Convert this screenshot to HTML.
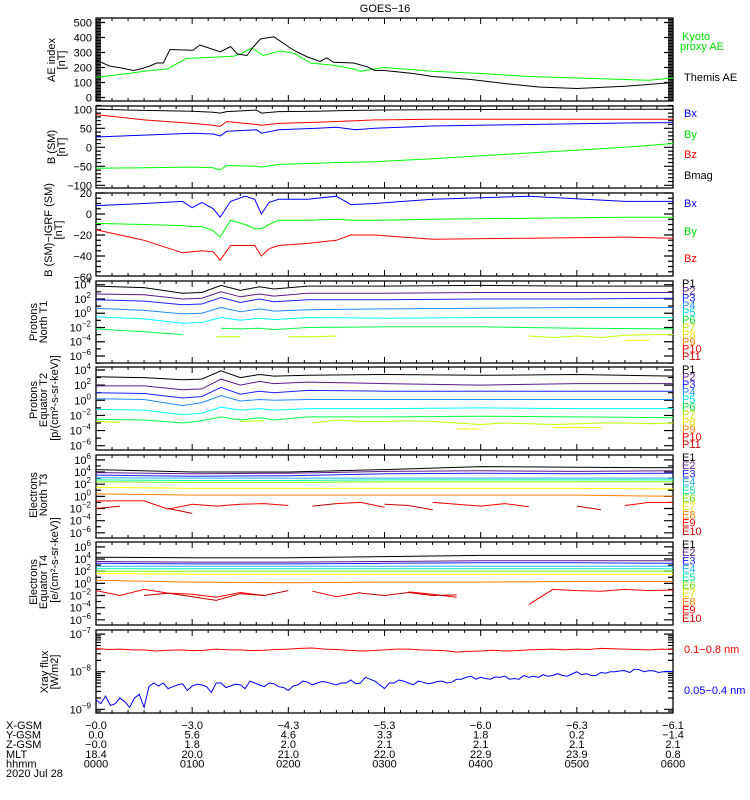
<!DOCTYPE html>
<html><head><meta charset="utf-8">
<style>
body{margin:0;background:#fff;}
svg{display:block;font-family:"Liberation Sans",sans-serif;}
text{font-size:11px;}
</style></head>
<body>
<svg id="c" width="750" height="800" viewBox="0 0 750 800" xmlns="http://www.w3.org/2000/svg">
<rect width="750" height="800" fill="#fff"/>
<text x="385" y="12" text-anchor="middle" font-size="12">GOES−16</text>
</svg>
<script>
// ---- data ----
const aeThemisT=[0,0.14,0.28,0.39,0.46,0.56,0.63,0.70,0.77,1.01,1.08,1.22,1.29,1.40,1.47,1.57,1.64,1.71,1.85,2.02,2.10,2.20,2.33,2.40,2.47,2.68,2.82,2.90,3.0,3.3,3.5,3.9,4.3,4.6,5.0,5.5,6.0];
const aeThemisV=[250,210,195,180,190,210,230,230,320,315,350,320,305,340,290,280,340,390,405,330,300,270,240,265,235,230,205,180,180,160,140,120,90,70,60,75,100];
const aeKyotoT=[0,0.39,0.56,0.74,0.94,1.43,1.50,1.62,1.74,1.92,2.06,2.23,2.47,2.68,2.75,2.89,3.0,3.5,4.0,4.5,5.0,5.5,5.75,6.0];
const aeKyotoV=[135,165,180,190,260,275,290,330,280,310,295,230,215,190,175,190,200,175,160,140,130,120,115,130];

const bT=[0,0.5,1.0,1.22,1.29,1.36,1.67,1.72,1.9,2.3,2.5,2.7,2.9,3.5,4.5,5.5,6.0];
const bMag=[100,97,95,92,90,94,98,90,94,95,96,97,98,99,100,100,100];
const bX=[27,32,37,35,30,42,46,37,46,50,53,46,50,56,60,64,65];
const bY=[-55,-54,-52,-54,-60,-48,-50,-52,-45,-42,-40,-39,-38,-30,-15,0,10];
const bZ=[86,72,63,58,55,68,60,58,63,66,68,70,72,74,74,74,74];

const biT=[0,0.5,0.9,1.0,1.1,1.22,1.29,1.4,1.55,1.65,1.72,1.8,1.9,2.2,2.5,2.65,2.9,3.5,4.5,5.5,6.0];
const biX=[8,10,12,6,11,5,-3,12,17,14,0,11,14,14,17,9,10,14,17,12,12];
const biY=[-9,-10,-11,-12,-12,-16,-22,-6,-10,-14,-14,-10,-6,-6,-5,-6,-6,-5,-4,-3,-3];
const biZ=[-15,-25,-37,-36,-35,-36,-44,-30,-30,-30,-40,-33,-30,-28,-25,-20,-20,-24,-23,-22,-23];

const tK=[0,0.5,0.9,1.1,1.3,1.5,1.7,1.85,2.2,3,4,5,6];
const t1P1=[3.8,3.6,2.8,2.9,3.9,3.2,3.7,3.4,3.8,3.8,3.9,3.8,3.8];
const t1P2=[2.7,2.6,2.0,2.1,3.0,2.3,2.7,2.4,2.8,2.8,2.9,2.9,2.9];
const t1P3=[1.9,1.7,1.2,1.3,2.2,1.5,2.0,1.6,1.9,1.9,2.0,2.0,2.1];
const t1P4=[0.7,0.4,-0.1,0.0,0.8,0.2,0.6,0.3,0.5,0.6,0.7,0.8,0.8];
const t1P5=[-0.5,-0.8,-1.4,-1.3,-0.6,-1.0,-0.7,-0.9,-0.6,-0.7,-0.6,-0.6,-0.6];
const t1P6=[-2.2,-2.6,-3.0,null,-2.1,-2.2,-2.1,-2.3,-2.0,-1.9,-1.9,-2.1,-2.2];
const t2P1=[3.1,3.0,2.7,2.8,3.9,3.0,3.4,3.2,3.3,3.4,3.3,3.4,3.2];
const t2P2=[1.9,1.9,1.4,1.5,2.8,2.0,2.5,2.2,2.4,2.2,2.0,2.2,2.2];
const t2P3=[1.0,0.9,0.3,0.5,1.7,0.8,1.2,1.0,1.3,1.2,1.2,1.2,1.2];
const t2P4=[0.2,0.1,-0.7,-0.3,0.6,-0.1,0.1,0.0,0.1,0.1,0.1,0.1,0.1];
const t2P5=[-1.2,-1.3,-1.9,-1.7,-0.9,-1.3,-1.1,-1.3,-1.1,-1.1,-1.0,-1.1,-1.1];
const t2P6=[-2.5,-2.6,-3.0,-2.7,-2.2,-2.6,-2.3,-2.6,-2.2,-2.2,-2.1,-2.2,-2.3];

const tF=[0,0.25,0.5,0.75,1,1.25,1.5,1.75,2,2.25,2.5,2.75,3,3.25,3.5,3.75,4,4.25,4.5,4.75,5,5.25,5.5,5.75,6];
const t1P7=[null,null,null,null,null,-3.3,-3.3,null,-3.3,-3.3,-3.2,null,null,null,null,null,null,null,-3.2,-3.4,-3.2,-3.4,-3.1,-3.0,-3.0];
const t1P8=[null,null,null,null,null,null,null,null,null,null,null,null,null,null,null,null,null,null,null,null,null,null,-3.8,-3.8,null];
const t2P7=[-2.8,-2.9,null,-3.0,null,null,-2.8,-2.7,null,-3.0,-2.6,-2.8,-2.8,-2.7,-2.8,-3.0,-3.2,-3.0,-3.1,-3.2,-3.1,-3.0,-3.0,-3.1,-3.0];
const t2P8=[null,null,null,null,null,null,null,null,null,null,null,null,null,null,null,-3.8,-3.8,null,null,-3.6,-3.6,-3.6,null,null,null];

const tE=[0,1,2,3,4,5,6];
const t3E1=[4.4,4.0,4.0,4.4,4.9,4.8,4.7];
const t3E2=[3.9,3.7,3.8,4.1,4.2,4.1,4.2];
const t3E3=[3.5,3.3,3.4,3.7,3.8,3.7,3.8];
const t3E4=[3.05,3.0,3.0,3.0,3.0,3.0,3.0];
const t3E5=[2.7,2.6,2.6,2.7,2.7,2.7,2.7];
const t3E6=[2.4,2.3,2.3,2.4,2.4,2.4,2.4];
const t3E7=[1.5,1.3,1.3,1.3,1.3,1.3,1.2];
const t3E8=[0.4,0.2,0.2,0.2,0.2,0.2,0.0];
const t3E9=[-0.75,-0.75,-0.75,-2.1,-1.3,-1.6,-1.3,-1.2,-1.5,null,-1.2,-1.0,-1.8,null,-1.0,-1.3,-1.6,-1.2,-1.7,null,-1.2,null,-1.5,-1.0,-1.0];
const t3E10=[-2.0,-1.6,null,-2.0,-2.8,null,null,null,null,-1.6,-1.2,null,-1.3,-1.5,-2.2,null,null,null,null,null,-1.6,-2.2,null,null,null];
const t4E1=[4.3,4.2,4.2,4.4,4.6,4.6,4.6];
const t4E2=[3.6,3.5,3.5,3.6,3.7,3.7,3.7];
const t4E3=[3.3,3.2,3.2,3.3,3.4,3.4,3.3];
const t4E4=[2.8,2.8,2.8,2.8,2.8,2.8,2.8];
const t4E5=[2.4,2.4,2.4,2.4,2.4,2.4,2.4];
const t4E6=[2.0,2.0,2.0,2.0,2.0,2.0,2.0];
const t4E7=[1.6,1.5,1.5,1.5,1.5,1.5,1.5];
const t4E8=[0.5,0.2,0.1,0.2,0.2,0.3,0.3];
const t4E9=[-1.2,-2.0,-1.0,-1.6,-1.8,-2.3,-1.5,-2.0,null,-1.3,-2.2,-1.5,null,-1.4,-1.8,-2.3,null,null,-3.5,-1.0,-1.2,-1.3,-1.0,-1.2,-1.1];
const t4E10=[-1.0,null,-2.0,-1.6,-2.2,-2.8,-1.7,-2.0,-1.2,null,null,-1.6,-2.0,-1.5,-2.0,-1.9,null,null,null,null,-1.2,null,-1.8,null,null];

const xrLong=[-7.38,-7.41,-7.40,-7.42,-7.42,-7.45,-7.43,-7.42,-7.44,-7.43,-7.40,-7.42,-7.42,-7.44,-7.43,-7.41,-7.40,-7.38,-7.37,-7.40,-7.41,-7.43,-7.45,-7.44,-7.42,-7.40,
-7.40,-7.42,-7.43,-7.44,-7.48,-7.46,-7.45,-7.43,-7.45,-7.44,-7.42,-7.41,-7.40,-7.42,-7.40,-7.41,-7.38,-7.39,-7.40,-7.41,-7.42,-7.40,-7.41];
const xrShort=[-8.75,-8.85,-8.65,-8.9,-8.85,-8.7,-8.8,-8.95,-8.7,-8.6,-8.95,-8.4,-8.3,-8.38,-8.3,-8.45,-8.4,-8.35,-8.32,-8.5,-8.38,-8.33,
-8.35,-8.4,-8.55,-8.3,-8.3,-8.42,-8.38,-8.33,-8.35,-8.45,-8.25,-8.3,-8.35,-8.4,-8.3,-8.32,-8.4,-8.42,-8.5,-8.38,-8.35,-8.25,
-8.28,-8.35,-8.3,-8.26,-8.28,-8.32,-8.35,-8.3,-8.3,-8.22,-8.32,-8.3,-8.15,-8.2,-8.25,-8.35,-8.45,-8.3,-8.3,-8.22,-8.25,-8.3,
-8.35,-8.25,-8.28,-8.32,-8.3,-8.26,-8.25,-8.3,-8.28,-8.2,-8.2,-8.15,-8.12,-8.2,-8.15,-8.18,-8.2,-8.14,-8.15,-8.12,-8.2,-8.18,
-8.2,-8.1,-8.15,-8.12,-8.15,-8.08,-8.12,-8.1,-8.05,-8.1,-8.12,-8.06,-8.0,-8.08,-8.05,-8.1,-8.1,-8.02,-8.04,-8.0,-8.0,-7.98,
-7.97,-8.02,-7.93,-7.95,-8.0,-7.97,-7.98,-8.02,-8.0,-7.99,-8.0];

const hourLabels=['0000','0100','0200','0300','0400','0500','0600'];
const xgsm=['−0.0','−3.0','−4.3','−5.3','−6.0','−6.3','−6.1'];
const ygsm=['0.0','5.6','4.6','3.3','1.8','0.2','−1.4'];
const zgsm=['−0.0','1.8','2.0','2.1','2.1','2.1','2.1'];
const mlt=['18.4','20.0','21.0','22.0','22.9','23.9','0.8'];

// ---- drawing ----
const svg=document.getElementById('c');
const NS='http://www.w3.org/2000/svg';
const X0=96,X1=673;
function xOf(t){return X0+t*(X1-X0)/6;}
function mk(tag,attrs,parent){const e=document.createElementNS(NS,tag);for(const k in attrs)e.setAttribute(k,attrs[k]);(parent||svg).appendChild(e);return e;}
function txt(x,y,s,opt,name){
  const e=mk('text',Object.assign({x:x,y:y},opt||{}));
  e.textContent=s;
  
  
  return e;}
function supLabel(x,y,base,exp,name){
  const e=mk('text',{x:x,y:y,'text-anchor':'end'});
  const a=document.createElementNS(NS,'tspan');a.textContent=base;e.appendChild(a);
  const b=document.createElementNS(NS,'tspan');b.setAttribute('dy','-5');b.setAttribute('font-size','8');b.textContent=exp;e.appendChild(b);
  
  
}
function series(times,vals,yf,color,name){
  let d='',pen=false;
  for(let i=0;i<vals.length;i++){
    if(vals[i]===null||vals[i]===undefined){pen=false;continue;}
    d+=(pen?'L':'M')+xOf(times[i]).toFixed(1)+' '+yf(vals[i]).toFixed(1);pen=true;
  }
  const p=mk('path',{d:d,fill:'none',stroke:color,'stroke-width':1});
  
  
}
function panel(name,top,bot){
  const g=mk('g',{});
  
  
  const r=mk('rect',{x:X0,y:top,width:X1-X0,height:bot-top,fill:'none',stroke:'#000','stroke-width':1.3},g);
  
  
  let d='';
  for(let k=0;k<=36;k++){const x=xOf(k/6);const L=(k%6===0)?6:3;d+=`M${x} ${top}v${L}M${x} ${bot}v${-L}`;}
  mk('path',{d:d,stroke:'#000','stroke-width':1},g);
  return g;
}
function yticks(top,bot,list,g){
  let d='';
  for(const [y,L] of list){if(y<top-0.5||y>bot+0.5)continue;d+=`M${X0} ${y}h${L}M${X1} ${y}h${-L}`;}
  const p=mk('path',{d:d,stroke:'#000','stroke-width':1.2},g);
  
  
}
function vtitle(x,cy,lines,size){
  lines.forEach((s,i)=>{
    const e=mk('text',{x:0,y:0,transform:`translate(${x+i*10},${cy}) rotate(-90)`,'text-anchor':'middle','font-size':size||11});
    e.textContent=s;
    
    
  });
}

// AE panel
(function(){
  const top=18,bot=101; const yf=v=>97.5-v*0.15;
  const g=panel('ae-index-panel',top,bot);
  const tl=[];for(let v=-20;v<=520;v+=10)tl.push([yf(v),v%100===0?9:5]);yticks(top,bot,tl,g);
  for(let v=0;v<=500;v+=100)txt(92,yf(v)+4,String(v),{'text-anchor':'end'},'y-tick-label');
  series(aeKyotoT,aeKyotoV,yf,'#00ff00','kyoto-ae-line');
  series(aeThemisT,aeThemisV,yf,'#000','themis-ae-line');
  vtitle(55,60,['AE index','[nT]']);
  txt(682,40,'Kyoto',{fill:'#00e000'},'legend-kyoto');
  txt(680,50,'proxy AE',{fill:'#00e000'},'legend-kyoto');
  txt(684,81,'Themis AE',{},'legend-themis');
})();
// B SM
(function(){
  const top=106,bot=188; const yf=v=>147.3-v*0.38;
  const g=panel('b-sm-panel',top,bot);
  const tl=[];for(let v=-110;v<=110;v+=10)tl.push([yf(v),v%50===0?9:5]);yticks(top,bot,tl,g);
  [100,50,0,-50,-100].forEach(v=>txt(92,yf(v)+4,String(v).replace('-','−'),{'text-anchor':'end'},'y-tick-label'));
  series(bT,bY,yf,'#00ff00','by-line');series(bT,bX,yf,'#0000ff','bx-line');
  series(bT,bZ,yf,'#ff0000','bz-line');series(bT,bMag,yf,'#000','bmag-line');
  vtitle(55,147,['B (SM)','[nT]']);
  txt(684,117,'Bx',{fill:'#0000ff'},'legend-bx');txt(684,138,'By',{fill:'#00dd00'},'legend-by');
  txt(684,158,'Bz',{fill:'#ff0000'},'legend-bz');txt(684,179,'Bmag',{},'legend-bmag');
})();
// B-IGRF
(function(){
  const top=193,bot=276; const yf=v=>214-v*1.05;
  const g=panel('b-igrf-panel',top,bot);
  const tl=[];for(let v=-60;v<=20;v+=5)tl.push([yf(v),v%20===0?9:5]);yticks(top,bot,tl,g);
  [20,0,-20,-40,-60].forEach(v=>txt(92,yf(v)+4,String(v).replace('-','−'),{'text-anchor':'end'},'y-tick-label'));
  series(biT,biX,yf,'#0000ff','bx-line');series(biT,biY,yf,'#00ff00','by-line');series(biT,biZ,yf,'#ff0000','bz-line');
  vtitle(52,230,['B (SM)−IGRF (SM)','[nT]']);
  txt(684,207,'Bx',{fill:'#0000ff'},'legend-bx');txt(684,235,'By',{fill:'#00dd00'},'legend-by');txt(684,262,'Bz',{fill:'#ff0000'},'legend-bz');
})();
const pCols=['#000','#5a1a8c','#2020ff','#1e8cff','#00ffff','#00ff44','#c0ff00','#ffff00','#ff8000','#ff0000','#c00000'];
const pLegCols=['#000','#5a1a8c','#2020ff','#1e8cff','#00e0e0','#00e040','#c0e000','#e8e000','#ff8000','#ff0000','#c00000'];
const eCols=['#000','#5a1a8c','#2020ff','#1eb4ff','#00ffb0','#80ff00','#ffff00','#ff8000','#ff0000','#c00000'];
const eLegCols=['#000','#5a1a8c','#2020ff','#1eb4ff','#00e0a0','#70e000','#e8e000','#ff8000','#ff0000','#c00000'];
function logPanel(name,top,bot,yf,lo,hi,labs){
  const g=panel(name,top,bot);
  const tl=[];for(let L=lo;L<=hi;L++)tl.push([yf(L),(L%2===0)?9:5]);yticks(top,bot,tl,g);
  labs.forEach(L=>supLabel(91,yf(L)+4,'10',String(L).replace('-','−'),'y-tick-label'));
}
// Protons T1
(function(){
  const yf=L=>284.7+(4-L)*7.13;
  logPanel('protons-north-t1-panel',281,363,yf,-7,4,[4,2,0,-2,-4,-6]);
  [t1P1,t1P2,t1P3,t1P4,t1P5,t1P6].forEach((a,i)=>series(tK,a,yf,pCols[i],'proton-p'+(i+1)+'-line'));
  series(tF,t1P7,yf,pCols[6],'proton-p7-line');series(tF,t1P8,yf,pCols[7],'proton-p8-line');
  vtitle(37,322,['Protons','North T1']);
  for(let i=0;i<11;i++)txt(682,287+i*7.3,'P'+(i+1),{fill:pLegCols[i],'font-size':9},'legend-p'+(i+1));
})();
// Protons T2
(function(){
  const yf=L=>370+(4-L)*7.57;
  logPanel('protons-equator-t2-panel',367,450,yf,-7,4,[4,2,0,-2,-4,-6]);
  [t2P1,t2P2,t2P3,t2P4,t2P5,t2P6].forEach((a,i)=>series(tK,a,yf,pCols[i],'proton-p'+(i+1)+'-line'));
  series(tF,t2P7,yf,pCols[6],'proton-p7-line');series(tF,t2P8,yf,pCols[7],'proton-p8-line');
  vtitle(37,400,['Protons','Equator T2']);
  vtitle(58,398,['[p/(cm²-s-sr-keV)]']);
  for(let i=0;i<11;i++)txt(682,373+i*7.5,'P'+(i+1),{fill:pLegCols[i],'font-size':9},'legend-p'+(i+1));
})();
// Electrons T3 / T4
function ePanel(name,top,arrs,e9,e10,tit){
  const yf=L=>top+(6.8-L)*6.08;
  logPanel(name,top,top+83,yf,-6,6,[6,4,2,0,-2,-4,-6]);
  arrs.forEach((a,i)=>series(tE,a,yf,eCols[i],'electron-e'+(i+1)+'-line'));
  series(tF,e9,yf,eCols[8],'electron-e9-line');series(tF,e10,yf,eCols[9],'electron-e10-line');
  vtitle(37,top+40,tit);
  for(let i=0;i<10;i++)txt(682,top+6+i*8.2,'E'+(i+1),{fill:eLegCols[i],'font-size':10},'legend-e'+(i+1));
}
ePanel('electrons-north-t3-panel',455,[t3E1,t3E2,t3E3,t3E4,t3E5,t3E6,t3E7,t3E8],t3E9,t3E10,['Electrons','North T3']);
ePanel('electrons-equator-t4-panel',542,[t4E1,t4E2,t4E3,t4E4,t4E5,t4E6,t4E7,t4E8],t4E9,t4E10,['Electrons','Equator T4']);
vtitle(58,560,['[e/(cm²-s-sr-keV)]']);
// Xray
(function(){
  const top=630,bot=713; const yf=L=>671.7-(L+8)*37.6;
  const g=panel('xray-flux-panel',top,bot);
  const tl=[];for(let d=-10;d<=-7;d++)for(let m=1;m<10;m++){tl.push([yf(d+Math.log10(m)),m===1?9:5]);}
  yticks(top,bot,tl,g);
  [-7,-8,-9].forEach(L=>supLabel(91,yf(L)+4,'10',String(L).replace('-','−'),'y-tick-label'));
  const tx=xrShort.map((_,i)=>i*6/(xrShort.length-1));
  const tl2=xrLong.map((_,i)=>i*6/(xrLong.length-1));
  series(tl2,xrLong,yf,'#ff0000','xray-long-line');
  series(tx,xrShort,yf,'#0000ff','xray-short-line');
  vtitle(48,672,['Xray flux','[W/m2]']);
  txt(684,653,'0.1−0.8 nm',{fill:'#ff0000'},'legend-xray-long');
  txt(684,694,'0.05−0.4 nm',{fill:'#0000ff'},'legend-xray-short');
})();
// bottom orbit table
const rows=[['X-GSM',xgsm],['Y-GSM',ygsm],['Z-GSM',zgsm],['MLT',mlt],['hhmm',hourLabels]];
rows.forEach((r,ri)=>{
  const y=729+ri*9.6;
  txt(6,y,r[0],{'font-size':10.5},'orbit-row-label');
  r[1].forEach((s,i)=>txt(xOf(i),y,s,{'text-anchor':'middle','font-size':10.5},'x-tick-label'));
});
txt(6,777,'2020 Jul 28',{'font-size':10.5},'date-label');
</script>
</body></html>
